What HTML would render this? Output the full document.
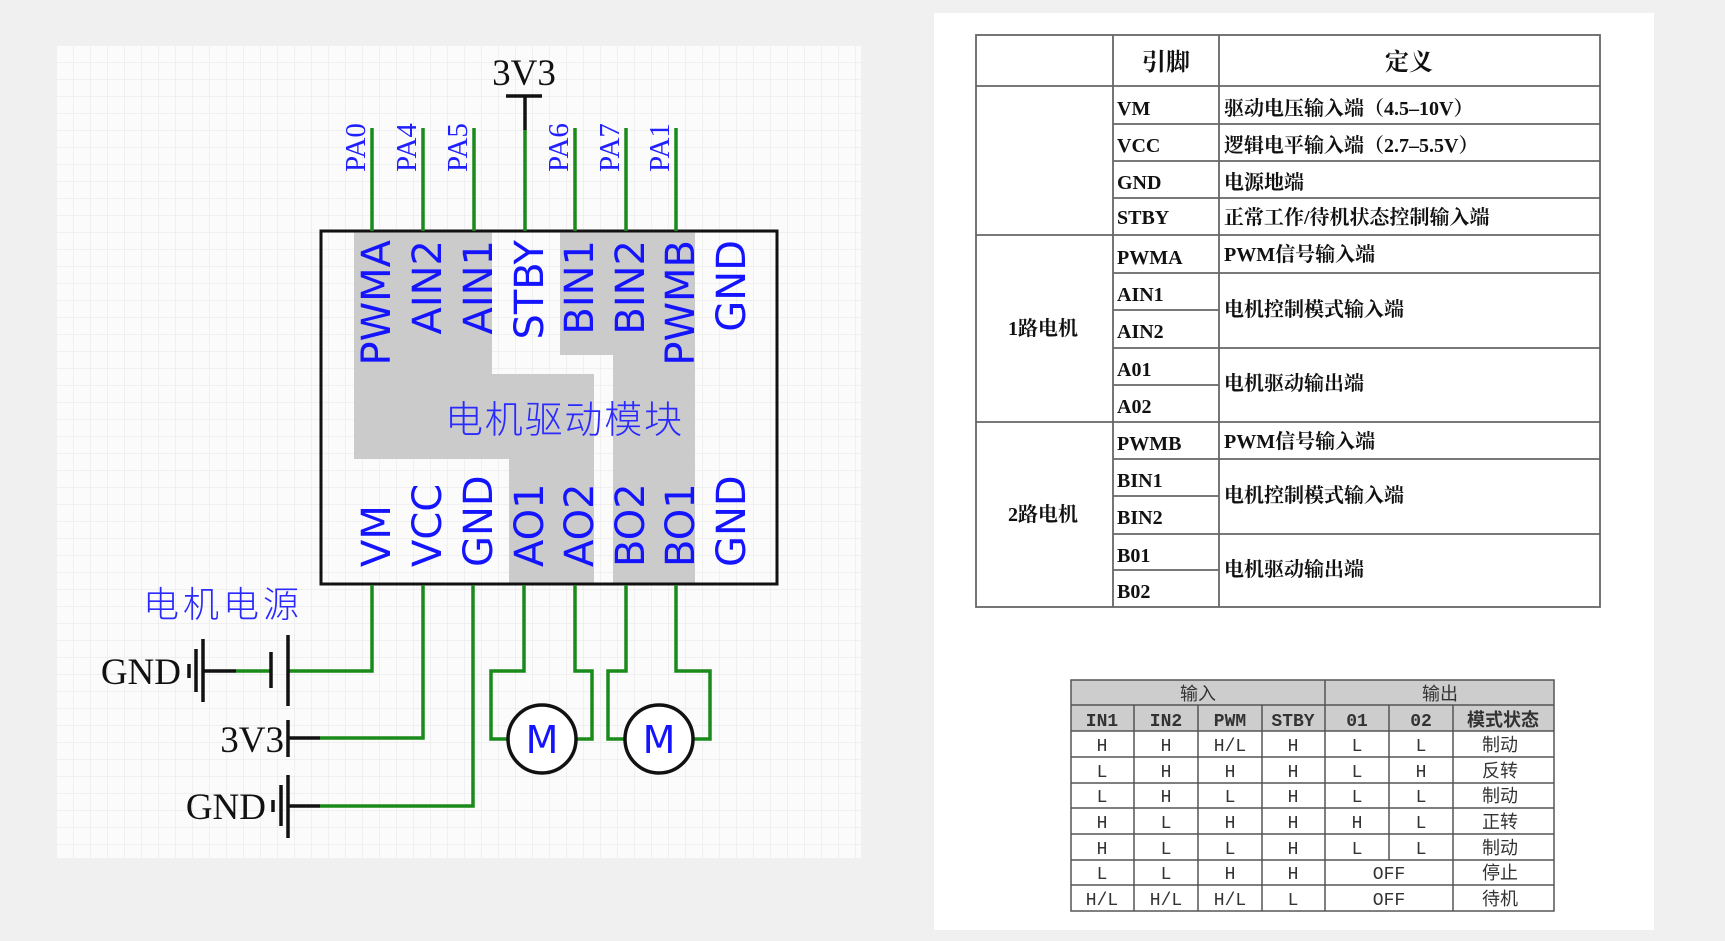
<!DOCTYPE html>
<html><head><meta charset="utf-8"><style>
html,body{margin:0;padding:0;background:#f0f0f0;}
svg{display:block;}
</style></head><body>
<svg width="1725" height="941" xmlns="http://www.w3.org/2000/svg">
<defs>
<pattern id="g" x="57" y="46" width="17" height="17" patternUnits="userSpaceOnUse">
<path d="M17 0V17M0 17H17" stroke="#e6e6e6" stroke-width="1" fill="none"/>
</pattern>
</defs>
<rect width="1725" height="941" fill="#f0f0f0"/>
<rect x="57" y="46" width="804" height="812" fill="#fbfbfb"/>
<rect x="57" y="46" width="804" height="812" fill="url(#g)"/>

<g fill="#cbcbcb">
<polygon points="354,232 492,232 492,374 594,374 594,585 509,585 509,459 354,459"/>
<polygon points="560,232 695,232 695,585 613,585 613,355 560,355"/>
</g>
<rect x="321" y="231" width="456" height="353" fill="none" stroke="#111" stroke-width="3"/>

<g stroke="#1a8a1a" stroke-width="3.5">
<line x1="372" y1="128" x2="372" y2="231"/>
<line x1="423" y1="128" x2="423" y2="231"/>
<line x1="474" y1="128" x2="474" y2="231"/>
<line x1="525" y1="130" x2="525" y2="231"/>
<line x1="575" y1="128" x2="575" y2="231"/>
<line x1="626" y1="128" x2="626" y2="231"/>
<line x1="676" y1="128" x2="676" y2="231"/>
</g>
<g stroke="#111" stroke-width="3.5">
<line x1="525" y1="96" x2="525" y2="130"/>
<line x1="506" y1="96" x2="542" y2="96"/>
</g>
<text x="524" y="85" font-family="Liberation Serif, serif" font-size="37" text-anchor="middle" fill="#111">3V3</text>

<g font-family="Liberation Serif, serif" font-size="29" fill="#2020ff">
<text transform="translate(365,172) rotate(-90)">PA0</text>
<text transform="translate(416,172) rotate(-90)">PA4</text>
<text transform="translate(467,172) rotate(-90)">PA5</text>
<text transform="translate(568,172) rotate(-90)">PA6</text>
<text transform="translate(619,172) rotate(-90)">PA7</text>
<text transform="translate(669,172) rotate(-90)">PA1</text>
</g>

<g font-family="DejaVu Sans, sans-serif" font-size="40" fill="#1414ff" text-anchor="end">
<text transform="translate(390,240) rotate(-90)">PWMA</text>
<text transform="translate(441,240) rotate(-90)">AIN2</text>
<text transform="translate(492,240) rotate(-90)">AIN1</text>
<text transform="translate(543,240) rotate(-90)">STBY</text>
<text transform="translate(593,240) rotate(-90)">BIN1</text>
<text transform="translate(644,240) rotate(-90)">BIN2</text>
<text transform="translate(694,240) rotate(-90)">PWMB</text>
<text transform="translate(745,240) rotate(-90)">GND</text>
</g>
<g font-family="DejaVu Sans, sans-serif" font-size="40" fill="#1414ff">
<text transform="translate(390,567) rotate(-90)">VM</text>
<text transform="translate(441,567) rotate(-90)">VCC</text>
<text transform="translate(492,567) rotate(-90)">GND</text>
<text transform="translate(543,567) rotate(-90)">AO1</text>
<text transform="translate(593,567) rotate(-90)">AO2</text>
<text transform="translate(644,567) rotate(-90)">BO2</text>
<text transform="translate(694,567) rotate(-90)">BO1</text>
<text transform="translate(745,567) rotate(-90)">GND</text>
</g>
<text x="445" y="433" font-family="Noto Sans CJK SC, sans-serif" font-weight="300" font-size="38" fill="#2a2aff" textLength="237">电机驱动模块</text>

<g stroke="#1a8a1a" stroke-width="3.5" fill="none">
<polyline points="372,585 372,671 288,671"/>
<polyline points="423,585 423,738 320,738"/>
<polyline points="473,585 473,806 320,806"/>
<line x1="236" y1="671" x2="271" y2="671"/>
<polyline points="524,585 524,671 491,671 491,739 508,739"/>
<polyline points="575,585 575,671 592,671 592,739 576,739"/>
<polyline points="626,585 626,671 608,671 608,739 625,739"/>
<polyline points="676,585 676,671 710,671 710,739 693,739"/>
</g>
<g stroke="#111" stroke-width="3.5" fill="none">
<line x1="288" y1="635" x2="288" y2="706"/>
<line x1="271" y1="652" x2="271" y2="688"/>
<line x1="203" y1="671" x2="236" y2="671"/>
<line x1="203" y1="639" x2="203" y2="702"/>
<line x1="196" y1="649" x2="196" y2="692"/>
<line x1="189" y1="664" x2="189" y2="678"/>
<line x1="288" y1="720" x2="288" y2="757"/>
<line x1="288" y1="738" x2="320" y2="738"/>
<line x1="288" y1="775" x2="288" y2="838"/>
<line x1="281" y1="785" x2="281" y2="826"/>
<line x1="273" y1="800" x2="273" y2="812"/>
<line x1="288" y1="806" x2="320" y2="806"/>
<circle cx="542" cy="739" r="34" fill="#fff"/>
<circle cx="659" cy="739" r="34" fill="#fff"/>
</g>
<g font-family="DejaVu Sans, sans-serif" font-size="38" fill="#1414ff" text-anchor="middle">
<text x="542" y="753">M</text>
<text x="659" y="753">M</text>
</g>
<g font-family="Liberation Serif, serif" font-size="37" fill="#111" text-anchor="end">
<text x="181" y="684">GND</text>
<text x="284" y="752">3V3</text>
<text x="266" y="819">GND</text>
</g>
<text x="143" y="617" font-family="Noto Sans CJK SC, sans-serif" font-weight="300" font-size="36" fill="#2a2aff" textLength="156">电机电源</text>

<rect x="934" y="13" width="720" height="917" fill="#fff"/>
<g stroke="#666" stroke-width="1.8" fill="none">
<rect x="976" y="35" width="624" height="572"/>
<line x1="1113" y1="35" x2="1113" y2="607"/>
<line x1="1219" y1="35" x2="1219" y2="607"/>
<line x1="976" y1="86" x2="1600" y2="86"/>
<line x1="1113" y1="124" x2="1600" y2="124"/>
<line x1="1113" y1="161" x2="1600" y2="161"/>
<line x1="1113" y1="198" x2="1600" y2="198"/>
<line x1="976" y1="235" x2="1600" y2="235"/>
<line x1="1113" y1="273" x2="1600" y2="273"/>
<line x1="1113" y1="310" x2="1219" y2="310"/>
<line x1="1113" y1="348" x2="1600" y2="348"/>
<line x1="1113" y1="385" x2="1219" y2="385"/>
<line x1="976" y1="422" x2="1600" y2="422"/>
<line x1="1113" y1="459" x2="1600" y2="459"/>
<line x1="1113" y1="496" x2="1219" y2="496"/>
<line x1="1113" y1="534" x2="1600" y2="534"/>
<line x1="1113" y1="570" x2="1219" y2="570"/>
</g>
<g font-family="Liberation Serif, Noto Serif CJK SC, serif" font-weight="bold" fill="#111">
<text x="1166" y="70" font-size="24" text-anchor="middle">引脚</text>
<text x="1409" y="70" font-size="24" text-anchor="middle">定义</text>
<g font-size="20">
<text x="1117" y="115">VM</text>
<text x="1117" y="152">VCC</text>
<text x="1117" y="189">GND</text>
<text x="1117" y="224">STBY</text>
<text x="1117" y="264">PWMA</text>
<text x="1117" y="301">AIN1</text>
<text x="1117" y="338">AIN2</text>
<text x="1117" y="376">A01</text>
<text x="1117" y="413">A02</text>
<text x="1117" y="450">PWMB</text>
<text x="1117" y="487">BIN1</text>
<text x="1117" y="524">BIN2</text>
<text x="1117" y="562">B01</text>
<text x="1117" y="598">B02</text>
<text x="1224" y="115">驱动电压输入端（4.5–10V）</text>
<text x="1224" y="152">逻辑电平输入端（2.7–5.5V）</text>
<text x="1224" y="189">电源地端</text>
<text x="1224" y="224">正常工作/待机状态控制输入端</text>
<text x="1224" y="261">PWM信号输入端</text>
<text x="1224" y="316">电机控制模式输入端</text>
<text x="1224" y="390">电机驱动输出端</text>
<text x="1224" y="448">PWM信号输入端</text>
<text x="1224" y="502">电机控制模式输入端</text>
<text x="1224" y="576">电机驱动输出端</text>
<text x="1043" y="335" text-anchor="middle">1路电机</text>
<text x="1043" y="521" text-anchor="middle">2路电机</text>
</g>
</g>

<rect x="1071" y="680" width="483" height="51" fill="#cdcdcd"/>
<g stroke="#555" stroke-width="1.5" fill="none">
<rect x="1071" y="680" width="483" height="231"/>
<line x1="1071" y1="705" x2="1554" y2="705"/>
<line x1="1071" y1="731" x2="1554" y2="731"/>
<line x1="1071" y1="757" x2="1554" y2="757"/>
<line x1="1071" y1="783" x2="1554" y2="783"/>
<line x1="1071" y1="808" x2="1554" y2="808"/>
<line x1="1071" y1="834" x2="1554" y2="834"/>
<line x1="1071" y1="860" x2="1554" y2="860"/>
<line x1="1071" y1="885" x2="1554" y2="885"/>
<line x1="1325" y1="680" x2="1325" y2="911"/>
<line x1="1134" y1="705" x2="1134" y2="911"/>
<line x1="1198" y1="705" x2="1198" y2="911"/>
<line x1="1262" y1="705" x2="1262" y2="911"/>
<line x1="1389" y1="705" x2="1389" y2="860"/>
<line x1="1453" y1="705" x2="1453" y2="911"/>
</g>
<g font-family="Liberation Mono, Noto Sans CJK SC, monospace" font-size="18" fill="#333" text-anchor="middle">
<text x="1198" y="700">输入</text>
<text x="1440" y="700">输出</text>
<g font-weight="bold">
<text x="1102" y="726">IN1</text><text x="1166" y="726">IN2</text><text x="1230" y="726">PWM</text><text x="1293" y="726">STBY</text><text x="1357" y="726">01</text><text x="1421" y="726">02</text><text x="1503" y="726">模式状态</text>
</g>
<text x="1102" y="751">H</text><text x="1166" y="751">H</text><text x="1230" y="751">H/L</text><text x="1293" y="751">H</text><text x="1357" y="751">L</text><text x="1421" y="751">L</text><text x="1500" y="751">制动</text>
<text x="1102" y="777">L</text><text x="1166" y="777">H</text><text x="1230" y="777">H</text><text x="1293" y="777">H</text><text x="1357" y="777">L</text><text x="1421" y="777">H</text><text x="1500" y="777">反转</text>
<text x="1102" y="802">L</text><text x="1166" y="802">H</text><text x="1230" y="802">L</text><text x="1293" y="802">H</text><text x="1357" y="802">L</text><text x="1421" y="802">L</text><text x="1500" y="802">制动</text>
<text x="1102" y="828">H</text><text x="1166" y="828">L</text><text x="1230" y="828">H</text><text x="1293" y="828">H</text><text x="1357" y="828">H</text><text x="1421" y="828">L</text><text x="1500" y="828">正转</text>
<text x="1102" y="854">H</text><text x="1166" y="854">L</text><text x="1230" y="854">L</text><text x="1293" y="854">H</text><text x="1357" y="854">L</text><text x="1421" y="854">L</text><text x="1500" y="854">制动</text>
<text x="1102" y="879">L</text><text x="1166" y="879">L</text><text x="1230" y="879">H</text><text x="1293" y="879">H</text><text x="1389" y="879">OFF</text><text x="1500" y="879">停止</text>
<text x="1102" y="905">H/L</text><text x="1166" y="905">H/L</text><text x="1230" y="905">H/L</text><text x="1293" y="905">L</text><text x="1389" y="905">OFF</text><text x="1500" y="905">待机</text>
</g>
</svg>
</body></html>
